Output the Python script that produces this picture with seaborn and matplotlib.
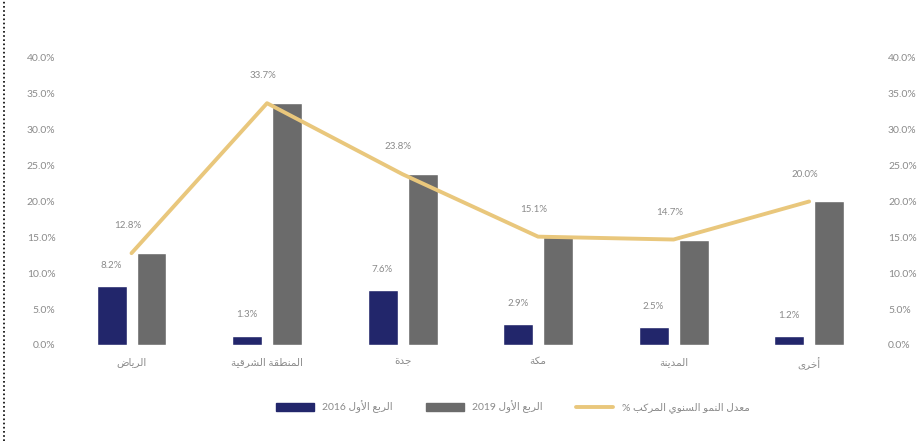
import numpy as np
import pandas as pd
import matplotlib
matplotlib.use("Agg")
import matplotlib.pyplot as plt
from matplotlib.patches import Patch
from matplotlib.lines import Line2D
import seaborn as sns

# -----------------------------
# 1. Data
# -----------------------------
regions = ["الرياض", "المنطقة الشرقية", "جدة", "مكة", "المدينة", "أخرى"]
share_2016 = [8.2, 1.3, 7.6, 2.9, 2.5, 1.2]
share_2019 = [12.8, 33.7, 23.8, 15.1, 14.7, 20.0]
growth_line = [12.8, 33.7, 23.8, 15.1, 14.7, 20.0]
legend_labels = ["الربع الأول 2016", "الربع الأول 2019", "معدل النمو السنوي المركب %"]
y_ticks = [0, 5, 10, 15, 20, 25, 30, 35, 40]

# -----------------------------
# 2. Minimal Arabic shaping (matplotlib has no RTL/shaping)
# -----------------------------
AR = {'ا': (0xFE8D, 0), 'أ': (0xFE83, 0), 'ب': (0xFE8F, 1), 'ة': (0xFE93, 0),
      'ج': (0xFE9D, 1), 'خ': (0xFEA5, 1), 'د': (0xFEA9, 0), 'ر': (0xFEAD, 0),
      'س': (0xFEB1, 1), 'ش': (0xFEB5, 1), 'ض': (0xFEBD, 1), 'ط': (0xFEC1, 1),
      'ع': (0xFEC9, 1), 'ق': (0xFED5, 1), 'ك': (0xFED9, 1), 'ل': (0xFEDD, 1),
      'م': (0xFEE1, 1), 'ن': (0xFEE5, 1), 'و': (0xFEED, 0), 'ى': (0xFEEF, 0),
      'ي': (0xFEF1, 1)}
LAM_ALEF = {'ا': 0xFEFB, 'أ': 0xFEF7}


def shape_word(w):
    out = []
    i = 0
    prev_joins = False
    while i < len(w):
        c = w[i]
        if c == 'ل' and i + 1 < len(w) and w[i + 1] in LAM_ALEF:
            out.append(chr(LAM_ALEF[w[i + 1]] + (1 if prev_joins else 0)))
            prev_joins = False
            i += 2
            continue
        if c not in AR:
            out.append(c)
            prev_joins = False
            i += 1
            continue
        base, dual = AR[c]
        nxt = bool(dual) and i + 1 < len(w) and w[i + 1] in AR
        if prev_joins and nxt:
            form = 3
        elif nxt:
            form = 2
        elif prev_joins:
            form = 1
        else:
            form = 0
        out.append(chr(base + form))
        prev_joins = bool(dual)
        i += 1
    return ''.join(out)


def ar(text):
    tokens = text.split(' ')
    vis = [shape_word(t)[::-1] if any(ch in AR for ch in t) else t for t in tokens]
    return ' '.join(vis[::-1])


# -----------------------------
# 3. Build table
# -----------------------------
df = pd.DataFrame({
    "region": regions * 2,
    "series": ["2016"] * len(regions) + ["2019"] * len(regions),
    "value": share_2016 + share_2019,
})

navy = "#22266b"
grey = "#6b6b6b"
gold = "#e9c77c"
text_grey = "#8a8a8a"

# -----------------------------
# 4. Plot
# -----------------------------
sns.set_style("white")
plt.rcParams['font.family'] = ['Lato', 'DejaVu Sans']

fig = plt.figure(figsize=(9.24, 4.41), dpi=100)
ax = fig.add_axes([0.069, 0.2177, 0.880, 0.6508])

sns.barplot(data=df, x="region", y="value", hue="series",
            palette=[navy, grey], width=0.59, gap=0.25,
            legend=False, ax=ax, saturation=1)
sns.lineplot(x=np.arange(len(regions)), y=growth_line, color=gold,
             linewidth=2.8, ax=ax, legend=False)

ax.set_xlim(-0.5, len(regions) - 0.5)
ax.set_ylim(0, 40)
ax.set_yticks(y_ticks)
ax.set_yticklabels([f"{t:.1f}%" for t in y_ticks])
ax.set_xticks(range(len(regions)))
ax.set_xticklabels([ar(r) for r in regions])
ax.set_xlabel("")
ax.set_ylabel("")
ax.tick_params(axis="both", length=0, labelsize=7.5, colors=text_grey)
ax.tick_params(axis="y", pad=6)
ax.tick_params(axis="x", pad=9)
sns.despine(ax=ax, left=True, bottom=True)

ax2 = ax.twinx()
ax2.set_ylim(0, 40)
ax2.set_yticks(y_ticks)
ax2.set_yticklabels([f"{t:.1f}%" for t in y_ticks])
ax2.tick_params(axis="y", length=0, labelsize=7.5, colors=text_grey, pad=8)
for s in ax2.spines.values():
    s.set_visible(False)

# value labels
for i, v in enumerate(share_2016):
    ax.text(i - 0.148, v + 2.3, f"{v:.1f}%", ha="center", va="bottom",
            fontsize=7, color=text_grey)
for i, v in enumerate(growth_line):
    ax.text(i - 0.03, v + 3.2, f"{v:.1f}%", ha="center", va="bottom",
            fontsize=7, color=text_grey)

# legend
handles = [Patch(color=navy), Patch(color=grey),
           Line2D([0], [0], color=gold, linewidth=2.8)]
fig.legend(handles, [ar(l) for l in legend_labels], loc="center",
           bbox_to_anchor=(0.555, 0.077), ncol=3, frameon=False,
           fontsize=7.5, labelcolor=text_grey, handlelength=3.6,
           handleheight=0.9, columnspacing=3.2)

# dotted frame line on the left edge
fig.add_artist(Line2D([0.004, 0.004], [0, 1], color="black",
                      linestyle=(0, (1, 1.5)), linewidth=1.2,
                      transform=fig.transFigure))

plt.savefig("out.png", dpi=100)
